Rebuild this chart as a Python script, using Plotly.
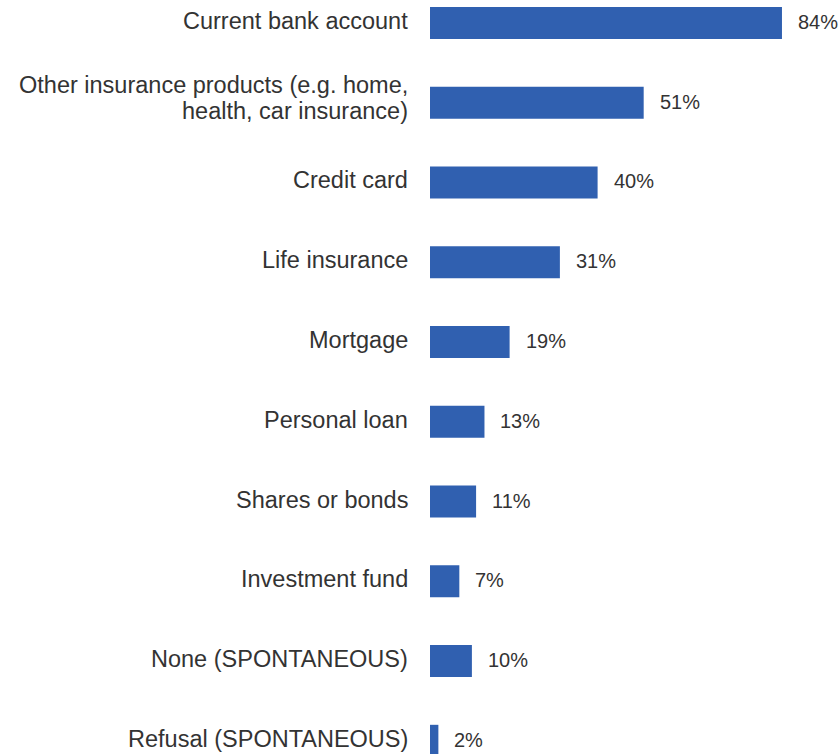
import plotly.graph_objects as go

categories = [
    "Current bank account",
    "Other insurance products (e.g. home,<br>health, car insurance)",
    "Credit card",
    "Life insurance",
    "Mortgage",
    "Personal loan",
    "Shares or bonds",
    "Investment fund",
    "None (SPONTANEOUS)",
    "Refusal (SPONTANEOUS)",
]
values = [84, 51, 40, 31, 19, 13, 11, 7, 10, 2]

BAR_COLOR = "#3060B0"
TEXT_COLOR = "#333333"
LABEL_FONT = "Liberation Sans, Arial, sans-serif"
VALUE_FONT = "Liberation Sans, Arial, sans-serif"

fig = go.Figure()
fig.add_trace(go.Bar(
    x=values,
    y=categories,
    orientation="h",
    marker=dict(color=BAR_COLOR, line=dict(width=0)),
    width=0.4,
    hoverinfo="skip",
))

annotations = []
# Category labels, right-aligned left of the bars; multi-line labels stacked tightly
for cat in categories:
    lines = cat.split("<br>")
    n = len(lines)
    for k, line in enumerate(lines):
        annotations.append(dict(
            x=0, y=cat, xref="x", yref="y",
            text=line, showarrow=False,
            xanchor="right", yanchor="middle",
            xshift=-20, yshift=((n - 1) / 2 - k) * 26 + (2 if n == 1 else 5),
            font=dict(family=LABEL_FONT, size=23.5, color=TEXT_COLOR),
        ))

# Value labels to the right of each bar
for cat, v in zip(categories, values):
    annotations.append(dict(
        x=v, y=cat, xref="x", yref="y",
        text=f"{v}%", showarrow=False,
        xanchor="left", yanchor="middle",
        xshift=14, yshift=1,
        font=dict(family=VALUE_FONT, size=20, color=TEXT_COLOR),
    ))

fig.update_layout(
    width=840, height=754,
    margin=dict(l=430, r=0, t=0, b=0),
    paper_bgcolor="white", plot_bgcolor="white",
    showlegend=False,
    annotations=annotations,
    xaxis=dict(range=[0, 97.85], visible=False, fixedrange=True),
    yaxis=dict(range=[9.166, -0.288], showticklabels=False, showgrid=False,
               zeroline=False, showline=False, ticks="", fixedrange=True),
)

fig.write_html("out.html")
